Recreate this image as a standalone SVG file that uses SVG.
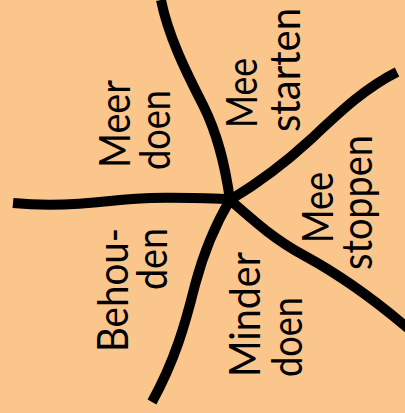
<svg xmlns="http://www.w3.org/2000/svg" width="405" height="413" viewBox="0 0 405 413">
<style>
.line{fill:none;stroke:#000;stroke-width:10;stroke-linecap:butt;stroke-linejoin:round}
.lbl{font-family:Lato,"Open Sans","DejaVu Sans",sans-serif;font-size:42px;fill:#000}
</style>
<rect x="0" y="0" width="405" height="413" fill="#FBC68B"/>
<g id="connectors">
<path class="line" d="M161,0 C168,35 185,70 203,105 C218,135 225,165 230,200"/>
<path class="line" d="M13,203 C45,206 75,205 110,201 C150,196 195,198 230,199"/>
<path class="line" d="M230,200 C260,182 285,163 310,140 C340,112 365,88 397,72"/>
<path class="line" d="M230,200 C255,222 275,240 305,256 C340,275 375,300 410,330"/>
<path class="line" d="M230,200 C215,225 203,255 195,285 C185,325 175,360 152,402"/>
</g>
<g id="meer-doen">
<text class="lbl" transform="translate(130,168) rotate(-90)" textLength="88" lengthAdjust="spacingAndGlyphs">Meer</text>
<text class="lbl" transform="translate(170,170) rotate(-90)" textLength="80" lengthAdjust="spacingAndGlyphs">doen</text>
</g>
<g id="mee-starten">
<text class="lbl" transform="translate(257,128) rotate(-90)" textLength="70" lengthAdjust="spacingAndGlyphs">Mee</text>
<text class="lbl" transform="translate(300,132) rotate(-90)" textLength="124" lengthAdjust="spacingAndGlyphs">starten</text>
</g>
<g id="mee-stoppen">
<text class="lbl" transform="translate(333,243) rotate(-90)" textLength="71" lengthAdjust="spacingAndGlyphs">Mee</text>
<text class="lbl" transform="translate(372,270) rotate(-90)" textLength="135" lengthAdjust="spacingAndGlyphs">stoppen</text>
</g>
<g id="behouden">
<text class="lbl" transform="translate(128,352) rotate(-90)" textLength="124" lengthAdjust="spacingAndGlyphs">Behou-</text>
<text class="lbl" transform="translate(167,290) rotate(-90)" textLength="62" lengthAdjust="spacingAndGlyphs">den</text>
</g>
<g id="minder-doen">
<text class="lbl" transform="translate(260,377) rotate(-90)" textLength="125" lengthAdjust="spacingAndGlyphs">Minder</text>
<text class="lbl" transform="translate(302,377) rotate(-90)" textLength="80" lengthAdjust="spacingAndGlyphs">doen</text>
</g>
</svg>
